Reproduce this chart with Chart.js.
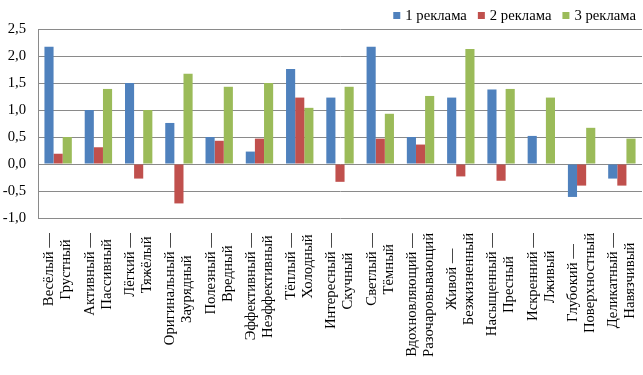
<!DOCTYPE html>
<html>
<head>
<meta charset="utf-8">
<script src="https://cdn.jsdelivr.net/npm/chart.js@4.4.1/dist/chart.umd.min.js"></script>
<style>
  html, body { margin: 0; padding: 0; background: #fff; }
  #wrap { width: 643px; height: 375px; }
</style>
</head>
<body>
<div id="wrap"><canvas id="adChart" width="643" height="375"></canvas></div>
<script>
// категории (пары прилагательных)
const categories = [
  ['Весёлый —', 'Грустный'],
  ['Активный —', 'Пассивный'],
  ['Лёгкий —', 'Тяжёлый'],
  ['Оригинальный —', 'Заурядный'],
  ['Полезный —', 'Вредный'],
  ['Эффективный —', 'Неэффективный'],
  ['Тёплый —', 'Холодный'],
  ['Интересный —', 'Скучный'],
  ['Светлый —', 'Тёмный'],
  ['Вдохновляющий —', 'Разочаровывающий'],
  ['Живой —', 'Безжизненный'],
  ['Насыщенный —', 'Пресный'],
  ['Искренний —', 'Лживый'],
  ['Глубокий —', 'Поверхностный'],
  ['Деликатный —', 'Навязчивый']
];

const seriesNames = ['1 реклама', '2 реклама', '3 реклама'];
const ad1 = [2.17, 1.0, 1.5, 0.76, 0.5, 0.23, 1.76, 1.23, 2.17, 0.5, 1.23, 1.38, 0.52, -0.61, -0.27];
const ad2 = [0.19, 0.31, -0.27, -0.73, 0.43, 0.47, 1.23, -0.33, 0.47, 0.36, -0.23, -0.31, 0, -0.40, -0.40];
const ad3 = [0.5, 1.39, 1.0, 1.67, 1.43, 1.5, 1.04, 1.43, 0.93, 1.26, 2.13, 1.39, 1.23, 0.67, 0.47];
const yTicks = [-1.0, -0.5, 0.0, 0.5, 1.0, 1.5, 2.0, 2.5];

const colors = ['#4F81BD', '#C0504D', '#9BBB59'];
const FAMILY = '"Liberation Serif", "Times New Roman", serif';
const FONT = '14.7px ' + FAMILY;
const GRID = '#8a8a8a';

// подписи оси X: повёрнуты, строки по центру
const xLabelsPlugin = {
  id: 'xLabels',
  afterDraw(chart) {
    const ctx = chart.ctx;
    const xs = chart.scales.x;
    const top = chart.chartArea.bottom + 15;
    const lh = 17;
    ctx.save();
    ctx.font = FONT;
    ctx.fillStyle = '#000';
    ctx.textAlign = 'center';
    ctx.textBaseline = 'middle';
    categories.forEach((lines, i) => {
      const x = xs.getPixelForValue(i);
      const maxW = Math.max(...lines.map(l => ctx.measureText(l).width));
      ctx.save();
      ctx.translate(x, top + maxW / 2);
      ctx.rotate(-Math.PI / 2);
      lines.forEach((l, j) => {
        ctx.fillText(l, 0, (j - (lines.length - 1) / 2) * lh);
      });
      ctx.restore();
    });
    ctx.restore();
  }
};

// легенда справа вверху
const legendPlugin = {
  id: 'customLegend',
  afterDraw(chart) {
    const ctx = chart.ctx;
    ctx.save();
    ctx.font = FONT;
    ctx.textBaseline = 'middle';
    let x = 636;
    const y = 16;
    for (let i = chart.data.datasets.length - 1; i >= 0; i--) {
      const ds = chart.data.datasets[i];
      const w = ctx.measureText(ds.label).width;
      x -= w;
      ctx.fillStyle = '#000';
      ctx.fillText(ds.label, x, y);
      x -= 5 + 7;
      ctx.fillStyle = ds.backgroundColor;
      ctx.fillRect(x, y - 4, 7, 7);
      x -= 11;
    }
    ctx.restore();
  }
};

new Chart(document.getElementById('adChart'), {
  type: 'bar',
  data: {
    labels: categories,
    datasets: [
      { label: seriesNames[0], data: ad1, backgroundColor: colors[0] },
      { label: seriesNames[1], data: ad2, backgroundColor: colors[1] },
      { label: seriesNames[2], data: ad3, backgroundColor: colors[2] }
    ]
  },
  options: {
    responsive: false,
    animation: false,
    events: [],
    layout: { padding: { top: 29, bottom: 157, left: 0, right: 1 } },
    datasets: { bar: { categoryPercentage: 0.68, barPercentage: 1.0 } },
    plugins: { legend: { display: false }, tooltip: { enabled: false } },
    scales: {
      x: {
        ticks: { display: false },
        grid: { display: false, drawTicks: false },
        border: { display: false },
        afterFit(s) { s.height = 0; }
      },
      y: {
        min: yTicks[0],
        max: yTicks[yTicks.length - 1],
        afterBuildTicks(s) { s.ticks = yTicks.map(v => ({ value: v })); },
        afterFit(s) { s.width = 38; },
        ticks: {
          padding: 12,
          color: '#000',
          font: { family: FAMILY, size: 14.7 },
          callback: v => v.toFixed(1).replace('.', ',')
        },
        grid: { color: GRID, lineWidth: 1, drawTicks: false },
        border: { display: true, color: GRID, width: 1 }
      }
    }
  },
  plugins: [xLabelsPlugin, legendPlugin]
});
</script>
</body>
</html>
